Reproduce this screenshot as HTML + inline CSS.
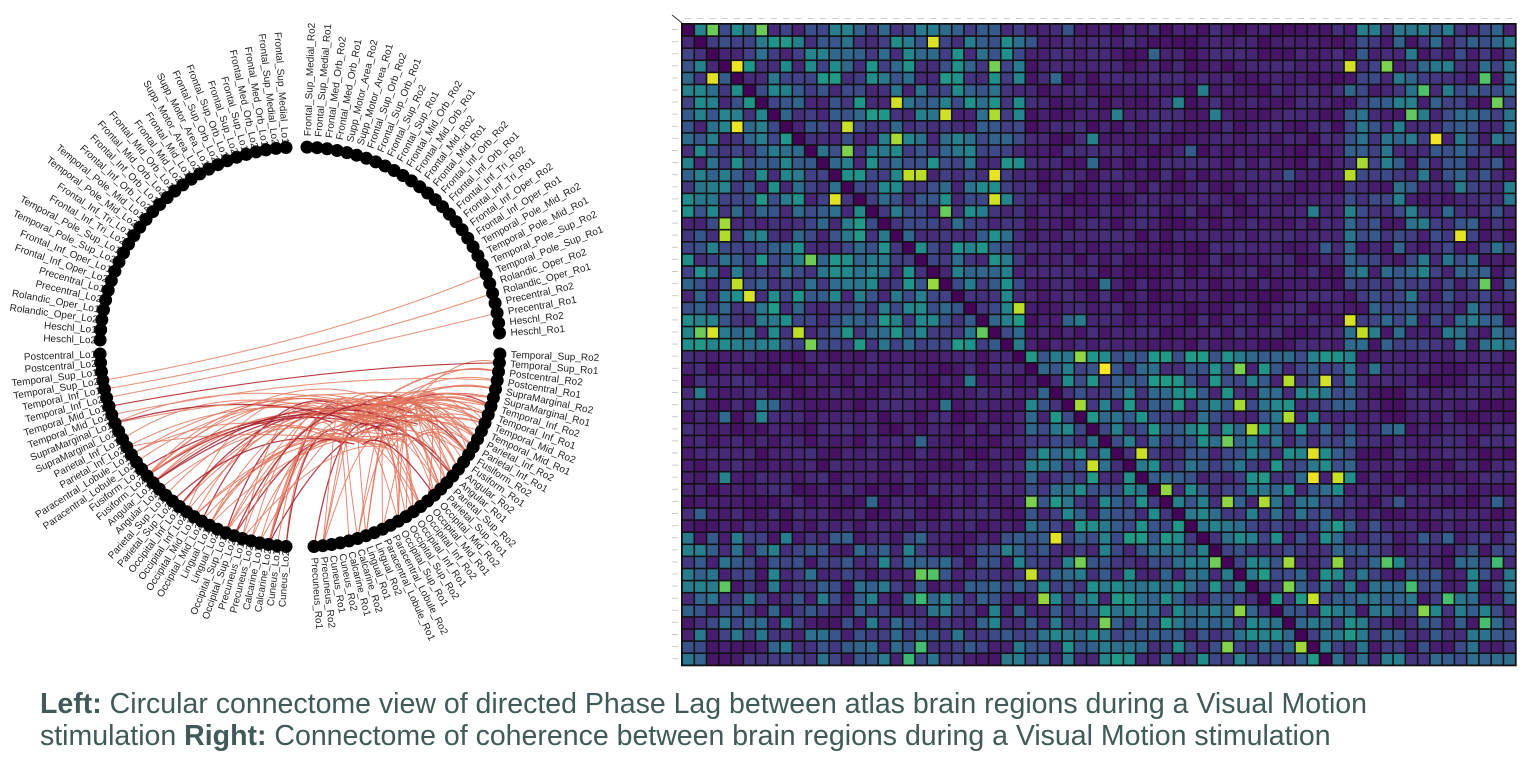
<!DOCTYPE html>
<html><head><meta charset="utf-8">
<style>
html,body{margin:0;padding:0;background:#fff;}
body{width:1536px;height:761px;overflow:hidden;position:relative;font-family:"Liberation Sans",sans-serif;}
svg{position:absolute;left:0;top:0;}
.lab text{font-family:"Liberation Sans",sans-serif;font-size:10px;fill:#222;}
.cap{position:absolute;left:40px;top:688px;font-size:28.5px;line-height:32px;color:#3f5a58;white-space:nowrap;}
</style></head><body>
<svg id="s" width="1536" height="761" viewBox="0 0 1536 761">
<g id="mat"></g>
<g id="curves" fill="none"></g>
<g id="dots"></g>
<g class="lab" id="tr">
<text>Frontal_Sup_Medial_Ro2</text><text>Frontal_Sup_Medial_Ro1</text><text>Frontal_Med_Orb_Ro2</text><text>Frontal_Med_Orb_Ro1</text><text>Supp_Motor_Area_Ro2</text><text>Supp_Motor_Area_Ro1</text><text>Frontal_Sup_Orb_Ro2</text><text>Frontal_Sup_Orb_Ro1</text><text>Frontal_Sup_Ro2</text><text>Frontal_Sup_Ro1</text><text>Frontal_Mid_Orb_Ro2</text><text>Frontal_Mid_Orb_Ro1</text><text>Frontal_Mid_Ro2</text><text>Frontal_Mid_Ro1</text><text>Frontal_Inf_Orb_Ro2</text><text>Frontal_Inf_Orb_Ro1</text><text>Frontal_Inf_Tri_Ro2</text><text>Frontal_Inf_Tri_Ro1</text><text>Frontal_Inf_Oper_Ro2</text><text>Frontal_Inf_Oper_Ro1</text><text>Temporal_Pole_Mid_Ro2</text><text>Temporal_Pole_Mid_Ro1</text><text>Temporal_Pole_Sup_Ro2</text><text>Temporal_Pole_Sup_Ro1</text><text>Rolandic_Oper_Ro2</text><text>Rolandic_Oper_Ro1</text><text>Precentral_Ro2</text><text>Precentral_Ro1</text><text>Heschl_Ro2</text><text>Heschl_Ro1</text>
</g>
<g class="lab" id="br">
<text>Temporal_Sup_Ro2</text><text>Temporal_Sup_Ro1</text><text>Postcentral_Ro2</text><text>Postcentral_Ro1</text><text>SupraMarginal_Ro2</text><text>SupraMarginal_Ro1</text><text>Temporal_Inf_Ro2</text><text>Temporal_Inf_Ro1</text><text>Temporal_Mid_Ro2</text><text>Temporal_Mid_Ro1</text><text>Parietal_Inf_Ro2</text><text>Parietal_Inf_Ro1</text><text>Fusiform_Ro2</text><text>Fusiform_Ro1</text><text>Angular_Ro2</text><text>Angular_Ro1</text><text>Parietal_Sup_Ro2</text><text>Parietal_Sup_Ro1</text><text>Occipital_Mid_Ro2</text><text>Occipital_Mid_Ro1</text><text>Occipital_Inf_Ro2</text><text>Occipital_Inf_Ro1</text><text>Occipital_Sup_Ro2</text><text>Occipital_Sup_Ro1</text><text>Paracentral_Lobule_Ro2</text><text>Paracentral_Lobule_Ro1</text><text>Lingual_Ro2</text><text>Lingual_Ro1</text><text>Calcarine_Ro2</text><text>Calcarine_Ro1</text><text>Cuneus_Ro2</text><text>Cuneus_Ro1</text><text>Precuneus_Ro2</text><text>Precuneus_Ro1</text>
</g>
<g class="lab" id="bl">
<text>Postcentral_Lo1</text><text>Postcentral_Lo2</text><text>Temporal_Sup_Lo1</text><text>Temporal_Sup_Lo2</text><text>Temporal_Inf_Lo1</text><text>Temporal_Inf_Lo2</text><text>Temporal_Mid_Lo1</text><text>Temporal_Mid_Lo2</text><text>SupraMarginal_Lo1</text><text>SupraMarginal_Lo2</text><text>Parietal_Inf_Lo1</text><text>Parietal_Inf_Lo2</text><text>Paracentral_Lobule_Lo1</text><text>Paracentral_Lobule_Lo2</text><text>Fusiform_Lo1</text><text>Fusiform_Lo2</text><text>Angular_Lo1</text><text>Angular_Lo2</text><text>Parietal_Sup_Lo1</text><text>Parietal_Sup_Lo2</text><text>Occipital_Inf_Lo1</text><text>Occipital_Inf_Lo2</text><text>Occipital_Mid_Lo1</text><text>Occipital_Mid_Lo2</text><text>Lingual_Lo1</text><text>Lingual_Lo2</text><text>Occipital_Sup_Lo1</text><text>Occipital_Sup_Lo2</text><text>Precuneus_Lo1</text><text>Precuneus_Lo2</text><text>Calcarine_Lo1</text><text>Calcarine_Lo2</text><text>Cuneus_Lo1</text><text>Cuneus_Lo2</text>
</g>
<g class="lab" id="tl">
<text>Heschl_Lo2</text><text>Heschl_Lo1</text><text>Rolandic_Oper_Lo2</text><text>Rolandic_Oper_Lo1</text><text>Precentral_Lo2</text><text>Precentral_Lo1</text><text>Frontal_Inf_Oper_Lo2</text><text>Frontal_Inf_Oper_Lo1</text><text>Temporal_Pole_Sup_Lo2</text><text>Temporal_Pole_Sup_Lo1</text><text>Frontal_Inf_Tri_Lo2</text><text>Frontal_Inf_Tri_Lo1</text><text>Temporal_Pole_Mid_Lo2</text><text>Temporal_Pole_Mid_Lo1</text><text>Frontal_Inf_Orb_Lo2</text><text>Frontal_Inf_Orb_Lo1</text><text>Frontal_Mid_Orb_Lo2</text><text>Frontal_Mid_Orb_Lo1</text><text>Frontal_Mid_Lo2</text><text>Frontal_Mid_Lo1</text><text>Supp_Motor_Area_Lo2</text><text>Supp_Motor_Area_Lo1</text><text>Frontal_Sup_Orb_Lo2</text><text>Frontal_Sup_Orb_Lo1</text><text>Frontal_Sup_Lo2</text><text>Frontal_Sup_Lo1</text><text>Frontal_Med_Orb_Lo2</text><text>Frontal_Med_Orb_Lo1</text><text>Frontal_Sup_Medial_Lo2</text><text>Frontal_Sup_Medial_Lo1</text>
</g>
</svg>
<div class="cap"><b>Left:</b> Circular connectome view of directed Phase Lag between atlas brain regions during a Visual Motion<br>stimulation <b>Right:</b> Connectome of coherence between brain regions during a Visual Motion stimulation</div>
<script>
(function(){
var NS="http://www.w3.org/2000/svg";
var seed=987654321;function rnd(){seed^=seed<<13;seed^=seed>>>17;seed^=seed<<5;return ((seed>>>0)%100000)/100000;}
function el(t,a,p){var e=document.createElementNS(NS,t);for(var k in a)e.setAttribute(k,a[k]);p.appendChild(e);return e;}
var vs=[[68,1,84],[72,35,116],[64,67,135],[52,94,141],[41,120,142],[32,144,140],[34,167,132],[68,190,112],[121,209,81],[189,222,38],[253,231,37]];
function vir(v){v=Math.max(0,Math.min(1,v))*10;var i=Math.min(9,Math.floor(v)),f=v-i;var a=vs[i],b=vs[i+1];
return "rgb("+Math.round(a[0]+(b[0]-a[0])*f)+","+Math.round(a[1]+(b[1]-a[1])*f)+","+Math.round(a[2]+(b[2]-a[2])*f)+")";}
var mat=document.getElementById("mat");
var x0=682,y0=24,cw=12.26,ch=12.1,C=68,R=53;
el("rect",{x:x0-1,y:y0-1,width:C*cw+2,height:R*ch+2,fill:"#111"},mat);
for(var r=0;r<R;r++)for(var c=0;c<C;c++){
 var v;var u=rnd();
 var b1=r<27&&c<28, b2=r>=27&&c>=28&&c<55;
 if(b1||b2){v=0.1+Math.pow(u,1.4)*0.45; if(rnd()<0.05)v=0.75+rnd()*0.25;}
 else if(r>=42){v=0.06+Math.pow(u,1.5)*0.4; if(rnd()<0.03)v=0.65+rnd()*0.2;}
 else if(c>=54&&r<27){v=0.06+Math.pow(u,1.5)*0.38; if(rnd()<0.03)v=0.7+rnd()*0.3;}
 else {v=0.04+u*0.1; if(rnd()<0.02)v=0.25+rnd()*0.2;}
 if(r==c)v=0.01;
 el("rect",{x:(x0+c*cw+0.8).toFixed(2),y:(y0+r*ch+0.8).toFixed(2),width:(cw-1.6).toFixed(2),height:(ch-1.6).toFixed(2),fill:vir(v)},mat);
}
for(var c=0;c<C;c++)el("rect",{x:x0+c*cw+3,y:18,width:6,height:1,fill:"#ccc"},mat);
for(var r=0;r<R;r++)el("rect",{x:672,y:y0+r*ch+5,width:6,height:1,fill:"#ccc"},mat);
el("line",{x1:672,y1:15,x2:682,y2:23,stroke:"#333","stroke-width":1},mat);
var cx=300,cy=347,RR=200,nodes={};
function place(id,start,step){
 var g=document.getElementById(id),ts=g.getElementsByTagName("text"),arr=[];
 for(var i=0;i<ts.length;i++){
  var th=start+i*step,rad=th*Math.PI/180,co=Math.cos(rad),si=Math.sin(rad);
  var px,py,t=ts[i];
  if(co>=0){px=cx+(RR+11)*co;py=cy-(RR+11)*si;t.setAttribute("transform","translate("+px.toFixed(1)+","+py.toFixed(1)+") rotate("+(-th).toFixed(2)+")");t.setAttribute("dy","3.5");}
  else{px=cx+(RR+4)*co;py=cy-(RR+4)*si;t.setAttribute("transform","translate("+px.toFixed(1)+","+py.toFixed(1)+") rotate("+(180-th).toFixed(2)+")");t.setAttribute("text-anchor","end");t.setAttribute("dy","3.5");}
  arr.push([cx+RR*co,cy-RR*si,th]);
 }
 nodes[id]=arr;
}
place("tr",88,-84/29);place("br",-2,-84/33);place("bl",182,84/33);place("tl",178,-84/29);
var cg=document.getElementById("curves");
function curve(a,b,qx,qy,col,w,op){
 el("path",{d:"M"+a[0].toFixed(1)+","+a[1].toFixed(1)+" Q"+qx.toFixed(1)+","+qy.toFixed(1)+" "+b[0].toFixed(1)+","+b[1].toFixed(1),stroke:col,"stroke-width":w,opacity:op},cg);
}
var low=nodes.br.slice(6,34).concat(nodes.bl.slice(8,34));
for(var i=0;i<120;i++){
 var a=low[Math.floor(rnd()*low.length)];
 var hx=330+rnd()*90,hy=400+rnd()*50;
 var dark=rnd()<0.15;
 var b=[hx,hy];
 curve(a,b,(a[0]+hx)/2+(rnd()-0.5)*40,Math.min(a[1],hy)-20-rnd()*30,dark?"#a8202e":"#e2735a",dark?1.3:1,0.85);
}
for(var i=0;i<25;i++){
 var a=nodes.br[1+Math.floor(rnd()*14)];var hx=330+rnd()*90,hy=400+rnd()*40;
 curve(a,[hx,hy],(a[0]+hx)/2,Math.min(a[1],hy)-15,"#e2735a",1,0.85);
}
var longs=[[nodes.bl[3],nodes.tr[23],360],[nodes.bl[4],nodes.tr[25],370],[nodes.bl[6],nodes.br[1],385],[nodes.bl[7],nodes.br[3],390],[nodes.bl[5],nodes.tr[27],375],[nodes.bl[8],nodes.br[5],400]];
longs.forEach(function(p,i){curve(p[0],p[1],330,p[2]-20,i==2?"#b3262b":"#e58a70",1.1,0.9);});
var dg=document.getElementById("dots");
[].concat(nodes.tr,nodes.br,nodes.bl,nodes.tl).forEach(function(n){el("circle",{cx:n[0].toFixed(1),cy:n[1].toFixed(1),r:6.5,fill:"#000"},dg);});
})();
</script>
</body></html>
